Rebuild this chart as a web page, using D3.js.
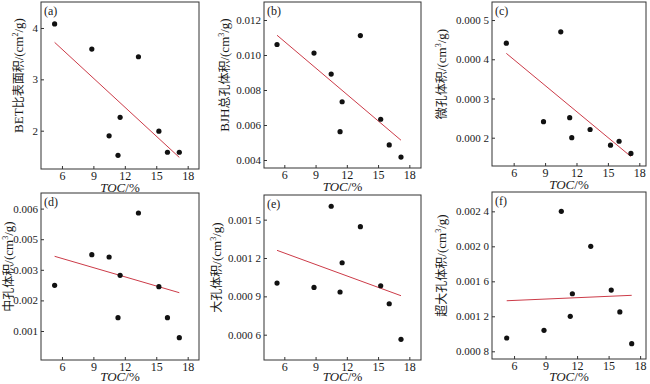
<!DOCTYPE html>
<html>
<head>
<meta charset="utf-8">
<script src="https://cdn.jsdelivr.net/npm/d3@7"></script>
<style>
  body { margin: 0; background: #fff; }
  svg { display: block; }
</style>
</head>
<body>
<div id="chart"></div>
<script>
// TOC (%) of the nine samples, shared by all panels
const toc = [5.3, 8.85, 10.5, 11.35, 11.55, 13.3, 15.25, 16.07, 17.2]

// pore parameters, same sample order as toc
const betArea = [4.08, 3.59, 1.90, 1.52, 2.26, 3.44, 1.99, 1.58, 1.58]
const bjhVolume = [0.0106, 0.01011, 0.00891, 0.00562, 0.00733, 0.01111, 0.00633, 0.00486, 0.00417]
const microVolume = [0.000441, 0.000241, 0.00047, 0.000251, 0.0002, 0.000221, 0.000181, 0.000191, 0.00016]
const mesoVolume = [0.002494, 0.003493, 0.003418, 0.001435, 0.00282, 0.004856, 0.002448, 0.001435, 0.000781]
const macroVolume = [0.001004, 0.00097, 0.001605, 0.000934, 0.001163, 0.001445, 0.000983, 0.000842, 0.000564]
const superMacroVolume = [0.000952, 0.00104, 0.0024, 0.0012, 0.001458, 0.002, 0.0015, 0.00125, 0.000887]

// trend line ends (at min and max TOC)
const fitX = [5.3, 17.2]
const fitBet = [3.72, 1.48]
const fitBjh = [0.01113, 0.00513]
const fitMicro = [0.000415, 0.000152]
const fitMeso = [0.003441, 0.002252]
const fitMacro = [0.00126, 0.000905]
const fitSuperMacro = [0.001378, 0.00144]

// axis ticks
const xTicks = [6, 9, 12, 15, 18]
const betTicks = [2, 3, 4]
const betLabels = ['2', '3', '4']
const bjhTicks = [0.004, 0.006, 0.008, 0.010, 0.012]
const bjhLabels = ['0.004', '0.006', '0.008', '0.010', '0.012']
const microTicks = [0.0002, 0.0003, 0.0004, 0.0005]
const microLabels = ['0.000 2', '0.000 3', '0.000 4', '0.000 5']
const mesoTicks = [0.001, 0.002, 0.003, 0.004, 0.005]
const mesoLabels = ['0.001', '0.002', '0.003', '0.005', '0.006']
const macroTicks = [0.0006, 0.0009, 0.0012, 0.0015]
const macroLabels = ['0.000 6', '0.000 9', '0.001 2', '0.001 5']
const superTicks = [0.0008, 0.0012, 0.0016, 0.0020, 0.0024]
const superLabels = ['0.000 8', '0.001 2', '0.001 6', '0.002 0', '0.002 4']

const panels = [
  { tag: '(a)', lat: 'BET', name: '比表面积', sup: '2', values: betArea, fit: fitBet, ticks: betTicks, labels: betLabels,
    box: { x: 41, y: 2, w: 158, h: 167 }, xDom: [4, 19.08], yDom: [1.254, 4.506], labelX: 23 },
  { tag: '(b)', lat: 'BJH', name: '总孔体积', sup: '3', values: bjhVolume, fit: fitBjh, ticks: bjhTicks, labels: bjhLabels,
    box: { x: 264, y: 2, w: 157, h: 166 }, xDom: [4.05, 19.12], yDom: [0.003543, 0.013029], labelX: 229 },
  { tag: '(c)', lat: '', name: '微孔体积', sup: '3', values: microVolume, fit: fitMicro, ticks: microTicks, labels: microLabels,
    box: { x: 492, y: 2, w: 154, h: 164 }, xDom: [3.93, 18.64], yDom: [0.0001279, 0.000546], labelX: 446 },
  { tag: '(d)', lat: '', name: '中孔体积', sup: '3', values: mesoVolume, fit: fitMeso, ticks: mesoTicks, labels: mesoLabels,
    box: { x: 41, y: 193, w: 158, h: 167 }, xDom: [4, 19.08], yDom: [0.0000523, 0.00551], labelX: 12.5 },
  { tag: '(e)', lat: '', name: '大孔体积', sup: '3', values: macroVolume, fit: fitMacro, ticks: macroTicks, labels: macroLabels,
    box: { x: 264, y: 195, w: 157, h: 165 }, xDom: [4.05, 19.12], yDom: [0.000402, 0.001693], labelX: 221 },
  { tag: '(f)', lat: '', name: '超大孔体积', sup: '3', values: superMacroVolume, fit: fitSuperMacro, ticks: superTicks, labels: superLabels,
    box: { x: 492, y: 192, w: 154, h: 167 }, xDom: [3.9, 18.56], yDom: [0.000712, 0.002621], labelX: 446 }
]

const width = 650
const height = 384
const serif = '"Liberation Serif", "Times New Roman", serif'
const cjk = '"Noto Sans CJK SC", sans-serif'

const svg = d3.select('#chart')
  .append('svg')
  .attr('width', width)
  .attr('height', height)

panels.forEach(p => {
  const b = p.box
  const x = d3.scaleLinear().domain(p.xDom).range([b.x, b.x + b.w])
  const y = d3.scaleLinear().domain(p.yDom).range([b.y + b.h, b.y])
  const g = svg.append('g')

  // x axis, ticks point inward
  const xAxis = g.append('g')
    .attr('transform', `translate(0,${b.y + b.h})`)
    .call(d3.axisBottom(x).tickValues(xTicks).tickSizeInner(-3).tickSizeOuter(0).tickPadding(2))
  xAxis.select('.domain').remove()
  xAxis.selectAll('.tick text').style('font-size', '12px')

  // y axis, ticks point inward
  const yAxis = g.append('g')
    .attr('transform', `translate(${b.x},0)`)
    .call(d3.axisLeft(y).tickValues(p.ticks).tickFormat((d, i) => p.labels[i])
      .tickSizeInner(-3).tickSizeOuter(0).tickPadding(3))
  yAxis.select('.domain').remove()
  yAxis.selectAll('.tick text').style('font-size', '11px')

  g.selectAll('.tick line').attr('stroke', '#333')
  g.selectAll('.tick text')
    .attr('fill', '#1a1a1a')
    .style('font-family', serif)

  // frame
  g.append('rect')
    .attr('x', b.x)
    .attr('y', b.y)
    .attr('width', b.w)
    .attr('height', b.h)
    .attr('fill', 'none')
    .attr('stroke', '#333')
    .attr('stroke-width', 1)

  // trend line
  g.append('line')
    .attr('x1', x(fitX[0]))
    .attr('y1', y(p.fit[0]))
    .attr('x2', x(fitX[1]))
    .attr('y2', y(p.fit[1]))
    .attr('stroke', '#cc3b48')
    .attr('stroke-width', 1)

  // points
  g.selectAll('circle')
    .data(p.values)
    .join('circle')
    .attr('cx', (d, i) => x(toc[i]))
    .attr('cy', d => y(d))
    .attr('r', 2.6)
    .attr('fill', '#111')

  // panel tag
  g.append('text')
    .attr('x', b.x + 3)
    .attr('y', b.y + 13)
    .attr('fill', '#1a1a1a')
    .style('font-family', serif)
    .style('font-size', '12px')
    .text(p.tag)

  // x label, kept inside the bottom edge
  const xl = g.append('text')
    .attr('x', b.x + b.w / 2)
    .attr('y', Math.min(b.y + b.h + 23, height - 3))
    .attr('text-anchor', 'middle')
    .attr('fill', '#1a1a1a')
    .style('font-family', serif)
    .style('font-size', '13px')
  xl.append('tspan').style('font-style', 'italic').text('TOC')
  xl.append('tspan').text('/%')

  // y label
  const cy = b.y + b.h / 2 - 10
  const yl = g.append('text')
    .attr('transform', `translate(${p.labelX},${cy}) rotate(-90)`)
    .attr('text-anchor', 'middle')
    .attr('fill', '#1a1a1a')
    .style('font-family', serif)
    .style('font-size', '13px')
  if (p.lat) yl.append('tspan').text(p.lat)
  yl.append('tspan').style('font-family', cjk).style('font-size', '12px').text(p.name)
  yl.append('tspan').text('/(cm')
  yl.append('tspan').style('font-size', '8px').attr('dy', -5).text(p.sup)
  yl.append('tspan').attr('dy', 5).text('/g)')
})
</script>
</body>
</html>
